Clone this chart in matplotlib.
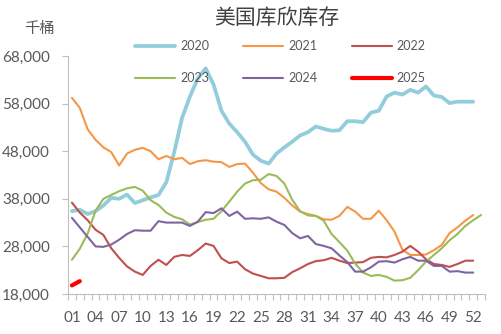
import matplotlib
matplotlib.use("Agg")
import matplotlib.pyplot as plt
import numpy as np
from matplotlib.ticker import FixedLocator, FuncFormatter

plt.rcParams['font.family'] = ['Lato', 'Noto Sans CJK SC', 'DejaVu Sans']

# Weekly Cushing crude inventories, thousand barrels
weeks = list(range(1, 54))
tick_weeks = list(range(1, 53, 3))
tick_labels = [f"{w:02d}" for w in tick_weeks]

inv_2020 = [35400, 35700, 34800, 35400, 36600, 38200, 38000, 38900, 37100, 37700,
            38300, 38800, 41500, 47800, 55000, 59500, 63300, 65400, 62000, 56500,
            53800, 52000, 50000, 47300, 46000, 45400, 47500, 48800, 50000, 51300,
            52000, 53200, 52700, 52300, 52400, 54300, 54300, 54100, 56100, 56500,
            59500, 60300, 59900, 60900, 60300, 61600, 59700, 59400, 58100, 58400,
            58400, 58400]
inv_2021 = [59200, 57100, 52600, 50400, 48800, 47800, 45000, 47500, 48300, 48700,
            48000, 46300, 47000, 46300, 46600, 45300, 45900, 46100, 45800, 45700,
            44700, 45300, 45400, 43500, 41300, 40000, 39500, 38200, 36600, 35300,
            34800, 34400, 33700, 33600, 34400, 36300, 35300, 33800, 33800, 35500,
            33500, 31100, 27300, 26200, 26200, 26300, 27200, 28300, 30800, 32000,
            33400, 34600]
inv_2022 = [37200, 35100, 33500, 31500, 30400, 27600, 25600, 23800, 22700, 22000,
            23900, 25200, 24100, 25800, 26200, 26000, 27200, 28600, 28100, 25500,
            24500, 24800, 23200, 22300, 21800, 21300, 21300, 21400, 22600, 23400,
            24300, 24900, 25100, 25600, 25000, 24500, 24600, 24700, 25600, 25800,
            25700, 26200, 26900, 28100, 26900, 25300, 24300, 24100, 23700, 24300,
            25000, 25000]
inv_2023 = [25200, 27500, 30700, 35500, 38000, 38800, 39600, 40200, 40500, 39700,
            37700, 36700, 35100, 34200, 33700, 32600, 33100, 33600, 33800, 35400,
            37400, 39500, 41200, 41900, 42000, 43200, 42800, 41200, 37800, 35400,
            34500, 34400, 33400, 30600, 28900, 27100, 24400, 22500, 21800, 22000,
            21600, 20800, 20900, 21400, 23000, 24800, 26200, 27600, 29300, 30600,
            32300, 33500, 34600]
inv_2024 = [34000, 32000, 30000, 28000, 27900, 28400, 29400, 30600, 31400, 31300,
            31300, 33300, 33000, 33000, 33000, 32300, 33200, 35200, 35000, 36000,
            34400, 35300, 33800, 33900, 33800, 34100, 33200, 32500, 30800, 29700,
            30200, 28500, 28100, 27600, 26100, 24700, 22700, 22700, 23600, 24800,
            24900, 24600, 25300, 25800, 25000, 25000, 23900, 23900, 22700, 22800,
            22500, 22500]
inv_2025 = [19800, 20700]

series = [
    ("2020", inv_2020, "#92CDDC", 2.7),
    ("2021", inv_2021, "#F79646", 1.5),
    ("2022", inv_2022, "#C0504D", 1.5),
    ("2023", inv_2023, "#9BBB59", 1.5),
    ("2024", inv_2024, "#8064A2", 1.5),
    ("2025", inv_2025, "#FF0000", 3.0),
]

W, H = 502, 334
fig = plt.figure(figsize=(W / 100, H / 100), dpi=100)
ax = fig.add_axes([68 / W, 1 - 294 / H, (485 - 68) / W, (294 - 56) / H])

handles = []
for label, vals, color, lw in series:
    ln, = ax.plot(weeks[:len(vals)], vals, color=color, lw=lw, label=label,
                  solid_joinstyle='round', solid_capstyle='round')
    handles.append(ln)

ax.set_xlim(0.5, 53.5)
ax.set_ylim(18000, 68000)
ax.yaxis.set_major_locator(FixedLocator(range(18000, 68001, 10000)))
ax.yaxis.set_major_formatter(FuncFormatter(lambda v, p: f"{int(v):,}"))
ax.xaxis.set_major_locator(FixedLocator(tick_weeks))
ax.set_xticklabels(tick_labels)
ax.xaxis.set_minor_locator(FixedLocator(np.arange(0.5, 54, 1.0)))

axis_gray = "#BFBFBF"
text_gray = "#595959"
for s in ("top", "right"):
    ax.spines[s].set_visible(False)
for s in ("left", "bottom"):
    ax.spines[s].set_color(axis_gray)
    ax.spines[s].set_linewidth(0.8)

ax.tick_params(axis='y', which='major', length=4, width=0.8, color=axis_gray,
               labelsize=11, labelcolor=text_gray, pad=9)
ax.tick_params(axis='x', which='major', length=0, labelsize=11,
               labelcolor=text_gray, pad=12)
ax.tick_params(axis='x', which='minor', length=4, width=0.8, color=axis_gray)

# legend filled row by row: three entries per row
order = [0, 3, 1, 4, 2, 5]
ax.legend(handles=[handles[i] for i in order], ncol=3, loc='upper left',
          bbox_to_anchor=(135 / W, 1 - 40 / H), bbox_transform=fig.transFigure,
          frameon=False, fontsize=9, handlelength=3.2, handletextpad=0.4,
          columnspacing=2.75, labelspacing=1.6, borderpad=0, borderaxespad=0,
          labelcolor=text_gray)

fig.text(277 / W, 1 - 18 / H, "美国库欣库存", ha='center', va='center',
         fontsize=15, color="#404040", family=['Noto Sans CJK SC', 'DejaVu Sans'])
fig.text(39 / W, 1 - 29 / H, "千桶", ha='center', va='center',
         fontsize=11, color=text_gray, family=['Noto Sans CJK SC', 'DejaVu Sans'])

fig.savefig("out.png", dpi=100)
